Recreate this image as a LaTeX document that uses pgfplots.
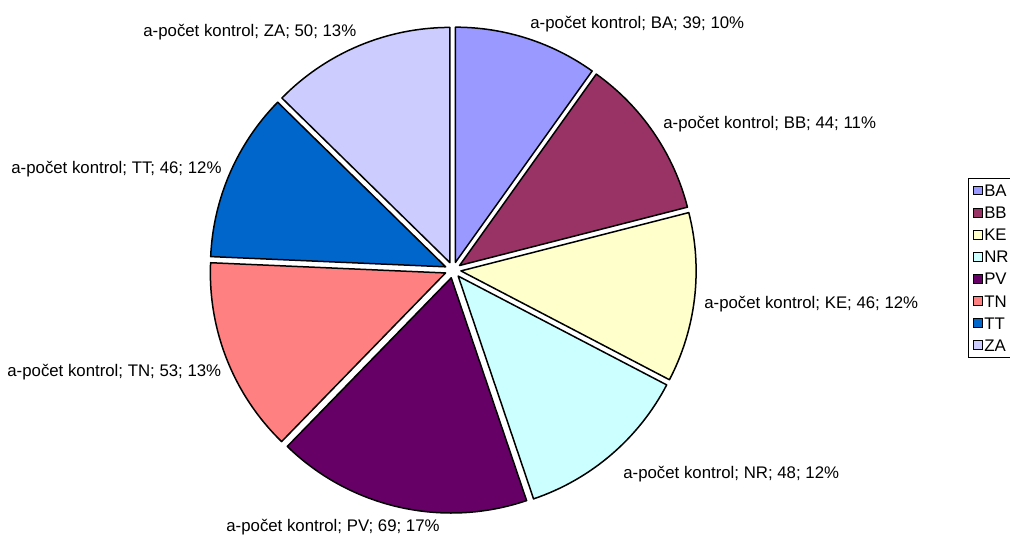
\documentclass[border=0pt]{standalone}
\usepackage{pgfplots}
\pgfplotsset{compat=1.18}
\usepackage{pgfplotstable}
\usepackage{fontspec}
\setmainfont{Liberation Sans}

\definecolor{cBA}{HTML}{9999FF}
\definecolor{cBB}{HTML}{993366}
\definecolor{cKE}{HTML}{FFFFCC}
\definecolor{cNR}{HTML}{CCFFFF}
\definecolor{cPV}{HTML}{660066}
\definecolor{cTN}{HTML}{FF8080}
\definecolor{cTT}{HTML}{0066CC}
\definecolor{cZA}{HTML}{CCCCFF}

\newcommand\labelfont{\fontsize{8.43}{10}\selectfont}

% value per region; lx, ly = label position (left, baseline) in pixel units
\pgfplotstableread{
name value lx ly
BA 39 530 509
BB 44 663 409
KE 46 704 229
NR 48 623 59
PV 69 226 6
TN 53 7 161
TT 46 11 364
ZA 50 143 501
}\piedata

\pgfplotsset{legend image code/.code={\draw[#1,draw=black,line width=0.5bp] (0bp,-2.2bp) rectangle (4.4bp,2.2bp);}}

% precompute angles from the table
\gdef\pietotal{0}
\foreach \i in {0,...,7}{%
  \pgfplotstablegetelem{\i}{value}\of\piedata
  \pgfmathsetmacro\tmpt{\pietotal+\pgfplotsretval}%
  \xdef\pietotal{\tmpt}%
}
\gdef\pieang{90}
\foreach \i in {0,...,7}{%
  \pgfplotstablegetelem{\i}{value}\of\piedata \let\pval\pgfplotsretval
  \pgfplotstablegetelem{\i}{name}\of\piedata \let\pname\pgfplotsretval
  \pgfplotstablegetelem{\i}{lx}\of\piedata \let\plx\pgfplotsretval
  \pgfplotstablegetelem{\i}{ly}\of\piedata \let\ply\pgfplotsretval
  \pgfmathsetmacro\frac{\pval/\pietotal}%
  \pgfmathsetmacro\sweep{\frac*360}%
  \pgfmathsetmacro\endang{\pieang-\sweep}%
  \pgfmathsetmacro\midang{\pieang-\sweep/2}%
  \pgfmathtruncatemacro\pct{round(\frac*100)}%
  \expandafter\xdef\csname pieS\i\endcsname{\pieang}%
  \expandafter\xdef\csname pieE\i\endcsname{\endang}%
  \expandafter\xdef\csname pieM\i\endcsname{\midang}%
  \expandafter\xdef\csname pieN\i\endcsname{\pname}%
  \expandafter\xdef\csname pieV\i\endcsname{\pval}%
  \expandafter\xdef\csname pieP\i\endcsname{\pct}%
  \expandafter\xdef\csname pieX\i\endcsname{\plx}%
  \expandafter\xdef\csname pieY\i\endcsname{\ply}%
  \xdef\pieang{\endang}%
}

\begin{document}
\begin{tikzpicture}
\useasboundingbox (0,0) rectangle (505bp,268.5bp);
\clip (0,0) rectangle (505bp,268.5bp);
\begin{axis}[
  x=0.5bp, y=0.5bp,
  xmin=0, xmax=1010, ymin=0, ymax=537,
  hide axis, clip=false,
  legend style={at={(axis cs:968,359)}, anchor=north west, draw=black,
    line width=0.5bp, font=\labelfont, inner xsep=2.5bp, inner ysep=2.5bp,
    row sep=4.05bp, nodes={inner sep=0.5bp, text height=6bp, text depth=0bp},
    cells={anchor=west}},
]
\addlegendimage{fill=cBA}\addlegendentry{BA}
\addlegendimage{fill=cBB}\addlegendentry{BB}
\addlegendimage{fill=cKE}\addlegendentry{KE}
\addlegendimage{fill=cNR}\addlegendentry{NR}
\addlegendimage{fill=cPV}\addlegendentry{PV}
\addlegendimage{fill=cTN}\addlegendentry{TN}
\addlegendimage{fill=cTT}\addlegendentry{TT}
\addlegendimage{fill=cZA}\addlegendentry{ZA}
\pgfplotsinvokeforeach{0,...,7}{%
  \edef\temp{\noexpand\filldraw[fill=c\csname pieN#1\endcsname, draw=black, line width=0.75bp, line join=round]
      (axis cs:453,267) ++(\csname pieM#1\endcsname:4bp) -- ++(\csname pieS#1\endcsname:117.6bp)
      arc[start angle=\csname pieS#1\endcsname, end angle=\csname pieE#1\endcsname, radius=117.6bp] -- cycle;
    \noexpand\node[anchor=base west, inner sep=0pt, font=\noexpand\labelfont] at (axis cs:\csname pieX#1\endcsname,\csname pieY#1\endcsname)
      {a-počet kontrol; \csname pieN#1\endcsname; \csname pieV#1\endcsname; \csname pieP#1\endcsname\noexpand\%};}%
  \temp
}
\end{axis}
\end{tikzpicture}
\end{document}
